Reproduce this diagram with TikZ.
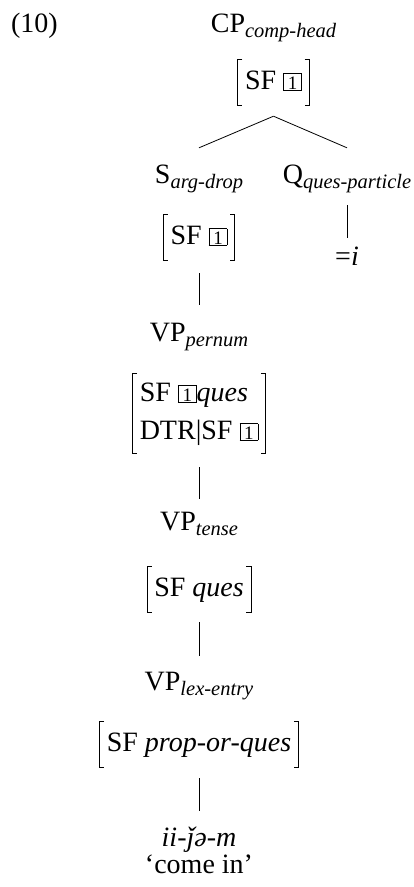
\documentclass[tikz,border=0pt]{standalone}
\usepackage{fontspec}
\setmainfont{Liberation Serif}
\newcommand\sub[1]{\raisebox{-5pt}{\fontsize{20.5}{22}\selectfont\itshape #1}}
\newcommand\tbox[1]{{\setlength\fboxsep{0pt}\setlength\fboxrule{0.6pt}\fbox{\makebox[17.5pt]{\rule[-1pt]{0pt}{16pt}\fontsize{19}{19}\selectfont #1}}}}
\tikzset{
  lab/.style={inner sep=0pt, text height=19pt, text depth=5pt, anchor=base, font=\fontsize{28}{34}\selectfont},
  avm/.style={inner xsep=7pt, inner ysep=0pt, text height=29pt, text depth=16pt, anchor=base, font=\fontsize{28}{38}\selectfont},
  avmtwo/.style={avm, text height=27pt, text depth=52pt},
  edge/.style={line width=0.8pt},
}
\newcommand\brk[1]{%
  \draw[edge] ([xshift=4.5pt]#1.north west) -- (#1.north west) -- (#1.south west) -- ([xshift=4.5pt]#1.south west);
  \draw[edge] ([xshift=-4.5pt]#1.north east) -- (#1.north east) -- (#1.south east) -- ([xshift=-4.5pt]#1.south east);}
\begin{document}
\begin{tikzpicture}[x=1pt, y=-1pt]
\useasboundingbox (0,0) rectangle (414,887);
\node[lab] (ex) at (34.5,32) {(10)};
\node[lab] (cp) at (273.5,32) {CP\sub{comp-head}};
\node[avm] (avm0) at (273.5,89) {SF \tbox{1}};
\brk{avm0}
\coordinate (apex) at ([yshift=-11pt]avm0.south);
\node[lab] (sarg) at (199,183) {S\sub{arg-drop}};
\node[lab] (qpart) at (347,183) {Q\sub{ques-particle}};
\draw[edge] (apex) -- ([yshift=16pt]sarg.north);
\draw[edge] (apex) -- ([yshift=16pt]qpart.north);
\node[avm] (avm1) at (199,244) {SF \tbox{1}};
\brk{avm1}
\node[lab] (qi) at (347,265) {=\textit{i}};
\draw[edge, shorten <=17pt, shorten >=8pt] (qpart.south) -- (qi.north);
\node[lab] (vpp) at (199,341) {VP\sub{pernum}};
\draw[edge, shorten <=13pt, shorten >=17pt] (avm1.south) -- (vpp.north);
\node[avmtwo] (avm2) at (199,401) {\begin{tabular}[t]{@{}l@{}}SF \tbox{1}\textit{ques}\\DTR|SF \tbox{1}\end{tabular}};
\brk{avm2}
\node[lab] (vpt) at (199,530) {VP\sub{tense}};
\draw[edge, shorten <=14pt, shorten >=12pt] (avm2.south) -- (vpt.north);
\node[avm] (avm3) at (199,596) {SF \textit{ques}};
\brk{avm3}
\node[lab] (vpl) at (199,690) {VP\sub{lex-entry}};
\draw[edge, shorten <=10pt, shorten >=15pt] (avm3.south) -- (vpl.north);
\node[avm] (avm4) at (199,751) {SF \textit{prop-or-ques}};
\brk{avm4}
\node[lab] (ii) at (199,846) {\textit{ii-ǰə-m}};
\draw[edge, shorten <=11pt, shorten >=16pt] (avm4.south) -- (ii.north);
\node[lab] (come) at (199,873) {‘come in’};
\end{tikzpicture}
\end{document}
